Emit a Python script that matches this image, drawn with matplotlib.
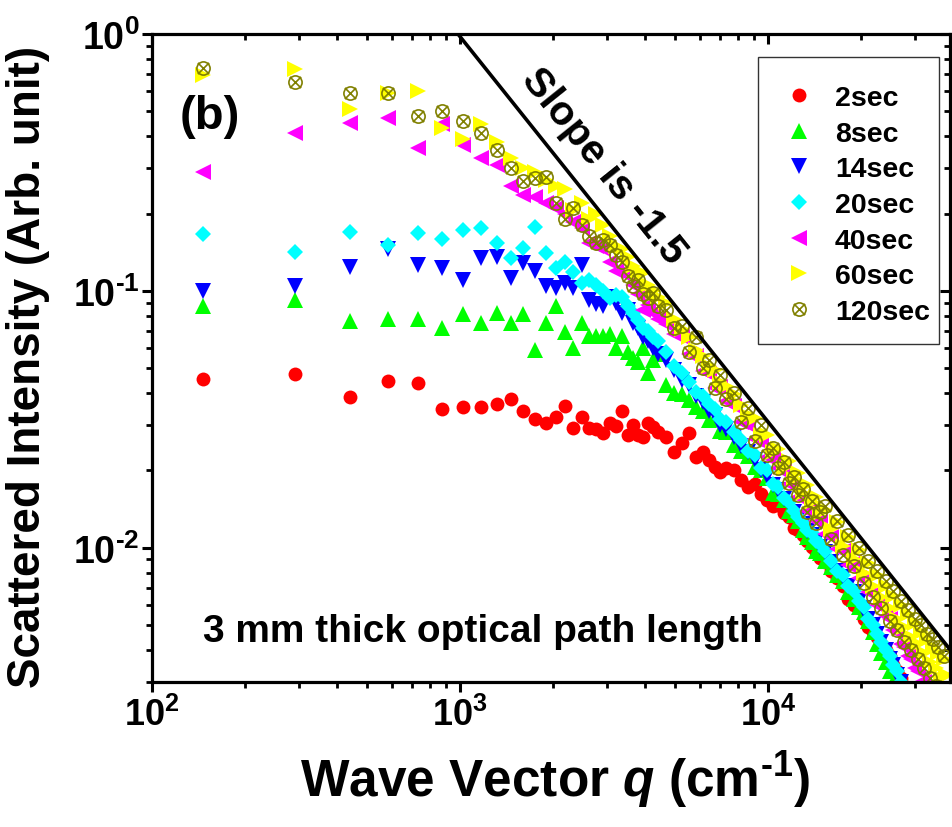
import math
import matplotlib.pyplot as plt
from matplotlib.path import Path
from matplotlib.patches import Rectangle
from matplotlib.ticker import FuncFormatter

plt.rcParams['font.family'] = ['Liberation Sans', 'DejaVu Sans']
plt.rcParams['font.weight'] = 'bold'
plt.rcParams['axes.unicode_minus'] = False
plt.rcParams['mathtext.fontset'] = 'custom'
plt.rcParams['mathtext.it'] = 'Liberation Sans:italic:bold'
plt.rcParams['mathtext.rm'] = 'Liberation Sans:bold'

# wave vector q (cm^-1)
q = [146, 292, 438, 584, 730, 876, 1022, 1168, 1314, 1460,
     1606, 1752, 1898, 2044, 2190, 2336, 2482, 2628, 2774, 2920,
     3066, 3212, 3358, 3504, 3650, 3796, 3942, 4088, 4234, 4380,
     4672, 4964, 5256, 5548, 5840, 6132, 6424, 6716, 7008, 7300,
     7738, 8176, 8614, 9052, 9490, 9928, 10366, 10804, 11242, 11680,
     12118, 12556, 12994, 13432, 13870, 14308, 14746,
     15330, 16060, 16790, 17520, 18250, 18980, 19710, 20440, 21170, 21900,
     22630, 23360, 24090, 24820, 25550, 26280, 27010, 27740, 28470, 29200,
     29930, 30660, 31390, 32120, 32850, 33580, 34310, 35040, 35770, 36500,
     37230, 37960]

# scattered intensity for each exposure time
s2 = [0.0453, 0.0474, 0.0385, 0.0445, 0.0437, 0.0346, 0.0354, 0.0354, 0.0362, 0.0378,
      0.0340, 0.0316, 0.0305, 0.0322, 0.0357, 0.0292, 0.0322, 0.0292, 0.0290, 0.0279,
      0.0305, 0.0297, 0.0340, 0.0274, 0.0300, 0.0274, 0.0270, 0.0305, 0.0295, 0.0282,
      0.0269, 0.0235, 0.0255, 0.0279, 0.0225, 0.0235, 0.0219, 0.0207, 0.0197, 0.0204,
      0.0200, 0.0183, 0.0173, 0.0177, 0.0162, 0.0153, 0.0145, 0.0147, 0.0137, 0.0132,
      0.0119, 0.0117, 0.0112, 0.0106, 0.0101, 0.0096, 0.0091,
      0.0088, 0.0081, 0.0076, 0.0071, 0.0063, 0.0060, 0.0058, 0.0053, 0.0049, 0.0047,
      0.0045, 0.0042, 0.0040, 0.0038, 0.0035, 0.0033, 0.0031, 0.0029, 0.0027, 0.0026,
      0.0025, 0.0024, 0.0023, 0.0022, 0.0021, 0.0020, 0.0019, 0.0019, 0.0018, 0.0017,
      0.0017, 0.0016]
s8 = [0.087, 0.092, 0.076, 0.078, 0.078, 0.072, 0.081, 0.075, 0.082, 0.075,
      0.081, 0.059, 0.075, 0.087, 0.069, 0.060, 0.075, 0.067, 0.067, 0.067,
      0.068, 0.060, 0.067, 0.058, 0.055, 0.053, 0.060, 0.048, 0.054, 0.057,
      0.043, 0.040, 0.0395, 0.0375, 0.0354, 0.0340, 0.0313, 0.0318, 0.0286, 0.0282,
      0.0252, 0.0239, 0.0227, 0.0207, 0.0200, 0.0186, 0.0164, 0.0162, 0.0153, 0.0139,
      0.0134, 0.0127, 0.0117, 0.0110, 0.0105, 0.0097, 0.0095,
      0.0089, 0.0084, 0.0078, 0.0074, 0.0067, 0.0063, 0.0059, 0.0056, 0.0052, 0.0047,
      0.0042, 0.0039, 0.0036, 0.0033, 0.0030, 0.0028, 0.0026, 0.0025, 0.0024, 0.0023,
      0.0022, 0.0021, 0.0020, 0.0019, 0.0018, 0.0017, 0.0016, 0.0016, 0.0015, 0.0014,
      0.0014, 0.0013]
s14 = [0.100, 0.104, 0.124, 0.145, 0.126, 0.123, 0.110, 0.134, 0.136, 0.112,
       0.128, 0.120, 0.104, 0.103, 0.107, 0.103, 0.126, 0.092, 0.089, 0.087,
       0.095, 0.090, 0.082, 0.084, 0.075, 0.072, 0.066, 0.064, 0.060, 0.057,
       0.054, 0.049, 0.045, 0.043, 0.039, 0.037, 0.034, 0.033, 0.030, 0.029,
       0.027, 0.025, 0.0235, 0.022, 0.020, 0.019, 0.0175, 0.0168, 0.0155, 0.0148,
       0.0138, 0.0130, 0.0124, 0.0116, 0.0112, 0.0106, 0.0101,
       0.0096, 0.0088, 0.0081, 0.0077, 0.0071, 0.0067, 0.0062, 0.0058, 0.0053, 0.0050,
       0.0046, 0.0043, 0.0040, 0.0037, 0.0035, 0.0032, 0.0030, 0.0028, 0.0026, 0.0025,
       0.0024, 0.0023, 0.0022, 0.0021, 0.0020, 0.0019, 0.0018, 0.0017, 0.0017, 0.0016,
       0.0015, 0.0015]
s20 = [0.166, 0.142, 0.170, 0.151, 0.168, 0.159, 0.173, 0.176, 0.154, 0.134,
       0.147, 0.178, 0.140, 0.123, 0.130, 0.118, 0.107, 0.110, 0.105, 0.100,
       0.094, 0.096, 0.095, 0.087, 0.082, 0.077, 0.072, 0.070, 0.066, 0.064,
       0.0576, 0.0509, 0.048, 0.044, 0.0405, 0.0389, 0.0362, 0.0348, 0.0318, 0.0308,
       0.0282, 0.0262, 0.0239, 0.0229, 0.0204, 0.0200, 0.0177, 0.0173, 0.0156, 0.0150,
       0.0139, 0.0132, 0.0125, 0.0117, 0.0114, 0.0106, 0.0103,
       0.0097, 0.0089, 0.0081, 0.0078, 0.0071, 0.0068, 0.0062, 0.0059, 0.0053, 0.0050,
       0.0046, 0.0043, 0.0040, 0.0038, 0.0035, 0.0033, 0.0030, 0.0028, 0.0026, 0.0025,
       0.0024, 0.0023, 0.0022, 0.0021, 0.0020, 0.0019, 0.0018, 0.0018, 0.0017, 0.0016,
       0.0016, 0.0015]
s40 = [0.29, 0.41, 0.45, 0.47, 0.36, 0.445, 0.37, 0.33, 0.31, 0.255,
       0.237, 0.231, 0.22, 0.21, 0.20, 0.185, 0.175, 0.154, 0.15, 0.145,
       0.13, 0.12, 0.118, 0.114, 0.105, 0.097, 0.084, 0.088, 0.082, 0.078,
       0.074, 0.068, 0.066, 0.0567, 0.0556, 0.0487, 0.0475, 0.0418, 0.0421, 0.0372,
       0.0356, 0.0308, 0.0300, 0.0265, 0.0259, 0.0225, 0.0226, 0.0204, 0.0197, 0.0177,
       0.0175, 0.0158, 0.0156, 0.0139, 0.0140, 0.0127, 0.0126,
       0.0113, 0.0110, 0.0099, 0.0097, 0.0086, 0.0087, 0.0076, 0.0075, 0.0067, 0.0066,
       0.0060, 0.0059, 0.0054, 0.0053, 0.0048, 0.0047, 0.0042, 0.0041, 0.0038, 0.0037,
       0.0034, 0.0033, 0.0030, 0.0030, 0.0028, 0.0027, 0.0026, 0.0026, 0.0025, 0.0024,
       0.0024, 0.0023]
s60 = [0.69, 0.73, 0.51, 0.59, 0.60, 0.43, 0.39, 0.445, 0.38, 0.33,
       0.30, 0.29, 0.27, 0.255, 0.25, 0.207, 0.22, 0.19, 0.20, 0.18,
       0.163, 0.15, 0.145, 0.136, 0.125, 0.118, 0.117, 0.105, 0.100, 0.095,
       0.090, 0.078, 0.071, 0.066, 0.059, 0.056, 0.051, 0.049, 0.044, 0.0425,
       0.0395, 0.036, 0.0325, 0.032, 0.0275, 0.0275, 0.0235, 0.0243, 0.0205, 0.0218,
       0.0185, 0.0195, 0.0163, 0.0175, 0.0150, 0.0158, 0.0136,
       0.0140, 0.0118, 0.0126, 0.0102, 0.0110, 0.0090, 0.0098, 0.0080, 0.0087, 0.0071,
       0.0078, 0.0064, 0.0071, 0.0058, 0.0065, 0.0053, 0.0060, 0.0049, 0.0055, 0.0045,
       0.0051, 0.0042, 0.0047, 0.0039, 0.0044, 0.0036, 0.0041, 0.0034, 0.0039, 0.0031,
       0.0037, 0.0032]
s120 = [0.74, 0.65, 0.59, 0.59, 0.48, 0.50, 0.46, 0.41, 0.355, 0.30,
        0.267, 0.274, 0.277, 0.22, 0.19, 0.21, 0.18, 0.163, 0.154, 0.158,
        0.151, 0.138, 0.13, 0.114, 0.104, 0.11, 0.097, 0.094, 0.098, 0.087,
        0.084, 0.072, 0.073, 0.058, 0.066, 0.050, 0.054, 0.042, 0.047, 0.038,
        0.040, 0.031, 0.035, 0.026, 0.030, 0.023, 0.0245, 0.0205, 0.0215, 0.0178,
        0.0188, 0.0160, 0.0170, 0.0138, 0.0152, 0.0125, 0.0138,
        0.0146, 0.0108, 0.0127, 0.0094, 0.0112, 0.0085, 0.0100, 0.0073, 0.0089, 0.0064,
        0.0081, 0.0058, 0.0074, 0.0052, 0.0068, 0.0048, 0.0062, 0.0043, 0.0057, 0.0040,
        0.0053, 0.0037, 0.0050, 0.0034, 0.0046, 0.0031, 0.0044, 0.0029, 0.0041, 0.0027,
        0.0038, 0.0028]

labels = ['2sec', '8sec', '14sec', '20sec', '40sec', '60sec', '120sec']

# circle with a cross through it for the 120sec data
cross = Path([(-0.85, -0.85), (0.85, 0.85), (-0.85, 0.85), (0.85, -0.85)],
             [Path.MOVETO, Path.LINETO, Path.MOVETO, Path.LINETO])
circle_x = Path.make_compound_path(Path.unit_circle(), cross)


def pow10(v, pos):
    # plain hyphen in the exponent instead of a math minus
    return r'$\mathdefault{10^{\text{%d}}}$' % int(round(math.log10(v)))


fig = plt.figure(figsize=(9.53, 8.28), dpi=100)
ax = fig.add_axes([0.1595, 0.1751, 0.8374, 0.7826])
ax.set_xscale('log')
ax.set_yscale('log')

ax.plot(q, s2, ls='none', marker='o', ms=10, mfc='#ff0000', mec='#ff0000', mew=0, label=labels[0])
ax.plot(q, s8, ls='none', marker='^', ms=11.5, mfc='#00ff00', mec='#00ff00', mew=0, label=labels[1])
ax.plot(q, s14, ls='none', marker='v', ms=11.5, mfc='#0000ff', mec='#0000ff', mew=0, label=labels[2])
ax.plot(q, s20, ls='none', marker='D', ms=8.6, mfc='#00ffff', mec='#00ffff', mew=0, label=labels[3])
ax.plot(q, s40, ls='none', marker='<', ms=11.5, mfc='#ff00ff', mec='#ff00ff', mew=0, label=labels[4])
ax.plot(q, s60, ls='none', marker='>', ms=11.5, mfc='#ffff00', mec='#ffff00', mew=0, label=labels[5])
ax.plot(q, s120, ls='none', marker=circle_x, ms=9.5, mfc='none', mec='#808000', mew=1.2, label=labels[6])

# guide line of slope -1.5 starting at the top of the frame
q0 = 985.
slope = -1.5
line_q = [q0, 39000.]
line_y = [(x / q0) ** slope for x in line_q]
ax.plot(line_q, line_y, color='black', lw=2.6, solid_capstyle='butt')

ax.set_xlim(100, 39000)
ax.set_ylim(0.003, 1)
ax.xaxis.set_major_formatter(FuncFormatter(pow10))
ax.yaxis.set_major_formatter(FuncFormatter(pow10))

# frame and ticks: out on bottom/left, in on top/right
for sp in ax.spines.values():
    sp.set_linewidth(2.3)
ax.tick_params(which='major', direction='out', length=7, width=2.2)
ax.tick_params(which='minor', direction='out', length=4.5, width=2.0)
ax.tick_params(axis='x', labelsize=26, pad=4)
ax.tick_params(axis='y', labelsize=27, pad=2)

top = ax.secondary_xaxis('top', functions=(lambda x: x, lambda x: x))
right = ax.secondary_yaxis('right', functions=(lambda y: y, lambda y: y))
for sec in (top, right):
    sec.tick_params(which='major', direction='in', length=7, width=2.2)
    sec.tick_params(which='minor', direction='in', length=4.5, width=2.0)
    sec.tick_params(labeltop=False, labelright=False, labelbottom=False, labelleft=False)

ax.set_xlabel(r'Wave Vector $\mathit{q}$ (cm$^{\text{-1}}$)', fontsize=37, fontweight='bold')
ax.xaxis.label.set_va('center')
ax.xaxis.set_label_coords(0.505, -0.15)
ax.set_ylabel('Scattered Intensity (Arb. unit)', fontsize=33, fontweight='bold')
ax.yaxis.label.set_va('center')
ax.yaxis.set_label_coords(-0.155, 0.488)

ax.text(0.0727, 0.873, '(b)', transform=ax.transAxes, fontsize=34, ha='center', va='center')
ax.text(0.064, 0.079, '3 mm thick optical path length', transform=ax.transAxes,
        fontsize=28, ha='left', va='center')
ax.text(0.566, 0.797, 'Slope is -1.5', transform=ax.transAxes, fontsize=29.5,
        rotation=-51.3, rotation_mode='anchor', ha='center', va='center')

leg = ax.legend(loc='upper left', bbox_to_anchor=(771 / 953, 1 - 86 / 828),
                bbox_transform=fig.transFigure, frameon=False, fontsize=20.5,
                borderpad=0, borderaxespad=0, handlelength=2.0, handletextpad=0.25,
                labelspacing=0.34, numpoints=1)
fig.patches.append(Rectangle((758 / 953, 1 - 345 / 828), 181 / 953, 287 / 828,
                             transform=fig.transFigure, fill=False,
                             edgecolor='#333333', lw=1.0))

fig.savefig('out.png', dpi=100)
